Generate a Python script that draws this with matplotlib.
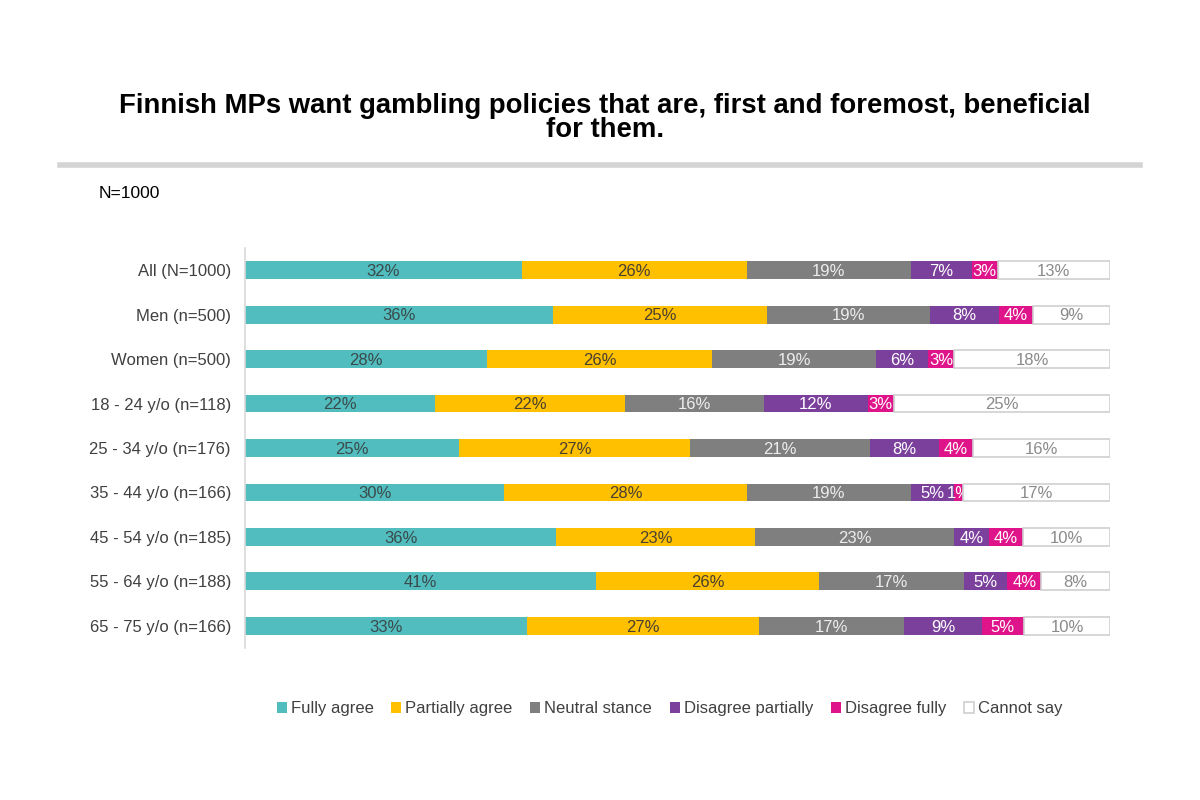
import matplotlib.pyplot as plt
import numpy as np

plt.rcParams['font.family'] = ['Liberation Sans', 'DejaVu Sans']

# Survey data (percent)
groups = ['All (N=1000)',
          'Men (n=500)',
          'Women (n=500)',
          '18 - 24 y/o (n=118)',
          '25 - 34 y/o (n=176)',
          '35 - 44 y/o (n=166)',
          '45 - 54 y/o (n=185)',
          '55 - 64 y/o (n=188)',
          '65 - 75 y/o (n=166)']

answers = ['Fully agree', 'Partially agree', 'Neutral stance',
           'Disagree partially', 'Disagree fully', 'Cannot say']

fully_agree = [32, 36, 28, 22, 25, 30, 36, 41, 33]
partially_agree = [26, 25, 26, 22, 27, 28, 23, 26, 27]
neutral = [19, 19, 19, 16, 21, 19, 23, 17, 17]
disagree_partially = [7, 8, 6, 12, 8, 5, 4, 5, 9]
disagree_fully = [3, 4, 3, 3, 4, 1, 4, 4, 5]
cannot_say = [13, 9, 18, 25, 16, 17, 10, 8, 10]

series = [fully_agree, partially_agree, neutral,
          disagree_partially, disagree_fully, cannot_say]
colors = ['#52BDBF', '#FFC000', '#7F7F7F', '#7B3F9C', '#E0148A', '#FFFFFF']
edges = ['none', 'none', 'none', 'none', 'none', '#D0D0D0']
label_colors = ['#3A4A4A', '#4A4030', '#EDEDED', '#FFFFFF', '#FFFFFF', '#8A8A8A']

data = np.array(series, dtype=float)
share = data / data.sum(axis=0)

fig = plt.figure(figsize=(12, 8), dpi=100, facecolor='white')
ax = fig.add_axes([0.204, 0.19, 0.721, 0.50])

y = np.arange(len(groups))
left = np.zeros(len(groups))
for i, (name, col) in enumerate(zip(answers, colors)):
    ax.barh(y, share[i], left=left, height=0.4, color=col,
            edgecolor=edges[i], linewidth=1.2, label=name, zorder=2 + 2 * i)
    for j in range(len(groups)):
        ax.text(left[j] + share[i][j] / 2, y[j] + 0.03, f'{int(data[i][j])}%',
                ha='center', va='center', fontsize=12,
                color=label_colors[i], zorder=3 + 2 * i)
    left += share[i]

ax.set_xlim(0, 1.0)
ax.set_ylim(len(groups) - 0.5, -0.5)
ax.set_yticks(y)
ax.set_yticklabels(groups, fontsize=12, color='#404040')
ax.tick_params(axis='y', length=0, pad=10)
ax.set_xticks([])
for s in ['top', 'right', 'bottom']:
    ax.spines[s].set_visible(False)
ax.spines['left'].set_color('#D9D9D9')
ax.spines['left'].set_linewidth(1.2)

# Title, rule and sample note
fig.text(0.504, 0.852, 'Finnish MPs want gambling policies that are, first and foremost, beneficial\nfor them.',
         ha='center', va='center', fontsize=19.8, fontweight='bold',
         linespacing=0.9, color='black')
fig.add_artist(plt.Line2D([0.05, 0.95], [0.794, 0.794], color='#D4D4D4',
                          linewidth=4, transform=fig.transFigure))
fig.text(0.082, 0.758, 'N=1000', ha='left', va='center', fontsize=12.5, color='black')

leg = fig.legend(loc='center', bbox_to_anchor=(0.558, 0.114), ncol=6, frameon=False,
                 fontsize=12, handlelength=0.6, handleheight=0.6,
                 handletextpad=0.25, columnspacing=1.05)
for t in leg.get_texts():
    t.set_color('#404040')

plt.savefig('out.png', dpi=100, facecolor='white')
